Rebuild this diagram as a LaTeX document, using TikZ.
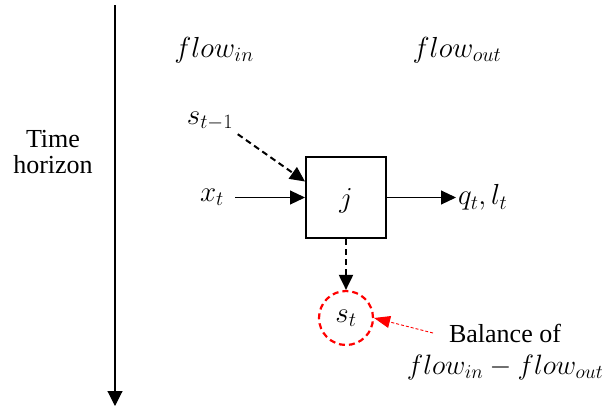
\RequirePackage{fix-cm}
\documentclass[tikz,border=0pt]{standalone}
\usepackage{fontspec}
\setmainfont{Liberation Serif}
\usetikzlibrary{arrows.meta}
\begin{document}
\begin{tikzpicture}[x=1pt,y=-1pt,
  txt/.style={font=\fontsize{26}{26}\selectfont, inner sep=0pt, align=center},
  mth/.style={font=\fontsize{29}{29}\selectfont, inner sep=2pt},
  tip/.style={-{Triangle[length=15pt,width=14pt]}},
  arr/.style={tip, line width=1.1pt},
  dasharr/.style={tip, line width=2pt, dash pattern=on 6pt off 4pt},
  redarr/.style={red, line width=0.9pt, dash pattern=on 3pt off 2pt, -{Triangle[length=16pt,width=12pt]}},
  procbox/.style={draw, line width=2pt, minimum width=80pt, minimum height=81pt, inner sep=0pt},
  stockcircle/.style={draw=red, circle, line width=2.2pt, dash pattern=on 6pt off 4pt, minimum size=54pt, inner sep=0pt}]
\useasboundingbox (0,0) rectangle (606,407);
% time axis
\coordinate (ttop) at (115,5);
\coordinate (tbot) at (115,406);
\draw[line width=1.1pt, -{Triangle[length=15pt,width=15pt]}] (ttop) -- (tbot);
\node[txt] (th) at (53,152) {Time\\horizon};
% headers
\node[mth, anchor=base] (fin) at (214,57) {$flow_{in}$};
\node[mth, anchor=base] (fout) at (457,57) {$flow_{out}$};
% process
\node[procbox] (box) at (346,197.5) {};
\node[mth, anchor=base] (j) at (346,207) {$j$};
\node[mth] (st1) at (210,121) {$s_{t-1}$};
\node[mth] (xt) at (212,197.5) {$x_t$};
\node[mth, anchor=west] (ql) at (456,197.5) {$q_t,l_t$};
\node[stockcircle] (stc) at (346,318) {};
\node[mth] (st) at (346,318) {$s_t$};
\node[txt] (bal) at (505,352) {Balance of\\[6pt]{\fontsize{28}{28}\selectfont$flow_{in}-flow_{out}$}};
\coordinate (redstart) at (433,333);
% connectors
\draw[arr, shorten <=9pt] (xt.east) -- (box.west);
\draw[dasharr, shorten <=3pt] (st1.south east) -- ([yshift=16pt]box.west);
\draw[arr] (box.east) -- (ql.west);
\draw[dasharr] (box.south) -- (stc.north);
\draw[redarr] (redstart) -- (stc.east);
\end{tikzpicture}
\end{document}
